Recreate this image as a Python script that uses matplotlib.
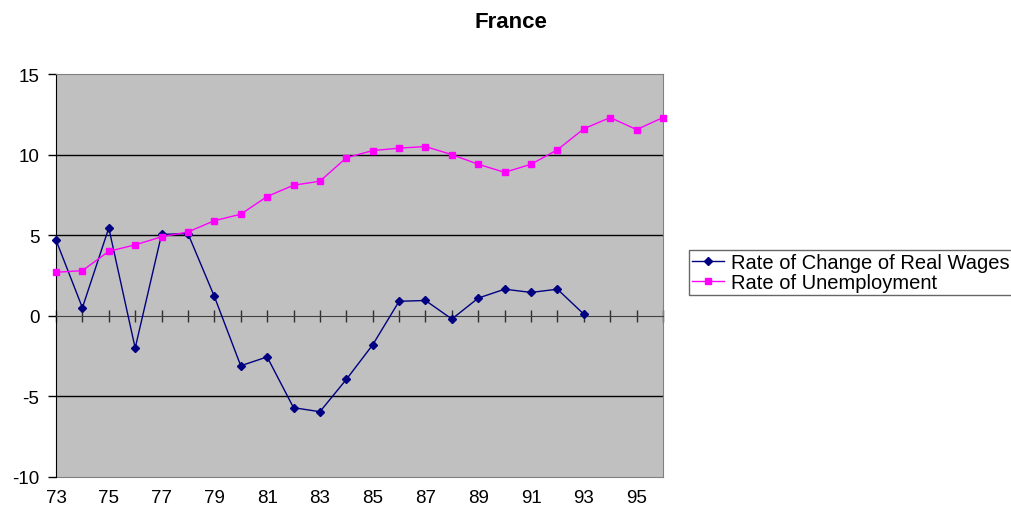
"""France: real wage growth vs unemployment rate, Excel-style line chart."""

import matplotlib
matplotlib.use('Agg')
import matplotlib.pyplot as plt

plt.rcParams['font.family'] = ['Liberation Sans', 'DejaVu Sans']

# ── Data ──────────────────────────────────────────────────────────────────────
YEARS = list(range(73, 97))
YEAR_LABELS = [str(y) for y in YEARS[::2]]

REAL_WAGES = [4.7, 0.5, 5.45, -2.0, 5.05, 5.1, 1.2, -3.1, -2.55, -5.7, -5.95,
              -3.95, -1.8, 0.9, 0.95, -0.2, 1.1, 1.65, 1.45, 1.65, 0.1]
UNEMPLOYMENT = [2.7, 2.8, 4.0, 4.4, 4.9, 5.2, 5.9, 6.3, 7.4, 8.1, 8.35, 9.8,
                10.25, 10.4, 10.5, 10.0, 9.4, 8.9, 9.4, 10.3, 11.6, 12.3,
                11.55, 12.3]

Y_TICKS = [-10, -5, 0, 5, 10, 15]

W, H = 1011, 510


def main():
    fig = plt.figure(figsize=(W / 100, H / 100), dpi=100)
    ax = fig.add_axes([56 / W, (H - 478) / H, 607 / W, 403 / H])
    ax.set_facecolor('#C0C0C0')

    # horizontal gridlines
    for y in [-5, 5, 10]:
        ax.axhline(y, color='black', linewidth=1, zorder=1)

    ax.plot(YEARS[:len(REAL_WAGES)], REAL_WAGES, '-D', color='#000080',
            linewidth=1, markersize=4, label='Rate of Change of Real Wages',
            zorder=3, clip_on=False)
    ax.plot(YEARS, UNEMPLOYMENT, '-s', color='#FF00FF',
            linewidth=1, markersize=5, label='Rate of Unemployment',
            zorder=4, clip_on=False)

    ax.set_xlim(YEARS[0], YEARS[-1])
    ax.set_ylim(-10, 15)
    ax.set_yticks(Y_TICKS)
    ax.set_yticklabels([str(t) for t in Y_TICKS], fontsize=13.5)
    ax.tick_params(axis='y', direction='out', length=6, width=1, pad=6)

    # category axis crosses at zero, labels sit at the bottom
    ax.spines['bottom'].set_position(('data', 0))
    ax.spines['bottom'].set_color('#404040')
    ax.set_xticks(YEARS)
    ax.tick_params(axis='x', direction='inout', length=9, width=1,
                   color='#303030', labelbottom=False)

    for side in ['top', 'right']:
        ax.spines[side].set_color('#808080')
    ax.spines['left'].set_color('black')

    sec = ax.secondary_xaxis(0)
    sec.set_xticks(YEARS[::2])
    sec.set_xticklabels(YEAR_LABELS, fontsize=13.5)
    sec.tick_params(length=0, pad=9)
    sec.spines['bottom'].set_color('#808080')

    fig.text(511 / W, 1 - 22 / H, 'France', ha='center', va='center',
             fontsize=16, fontweight='bold')

    leg = fig.legend(loc='upper left', bbox_to_anchor=(689 / W, 1 - 251 / H),
                     fontsize=14.5, frameon=True, fancybox=False,
                     borderaxespad=0, borderpad=0.15, handlelength=1.6,
                     handletextpad=0.35, labelspacing=0.05)
    leg.get_frame().set_edgecolor('#404040')
    leg.get_frame().set_linewidth(1)

    fig.savefig('out.png', dpi=100)
    plt.close(fig)


if __name__ == '__main__':
    main()
